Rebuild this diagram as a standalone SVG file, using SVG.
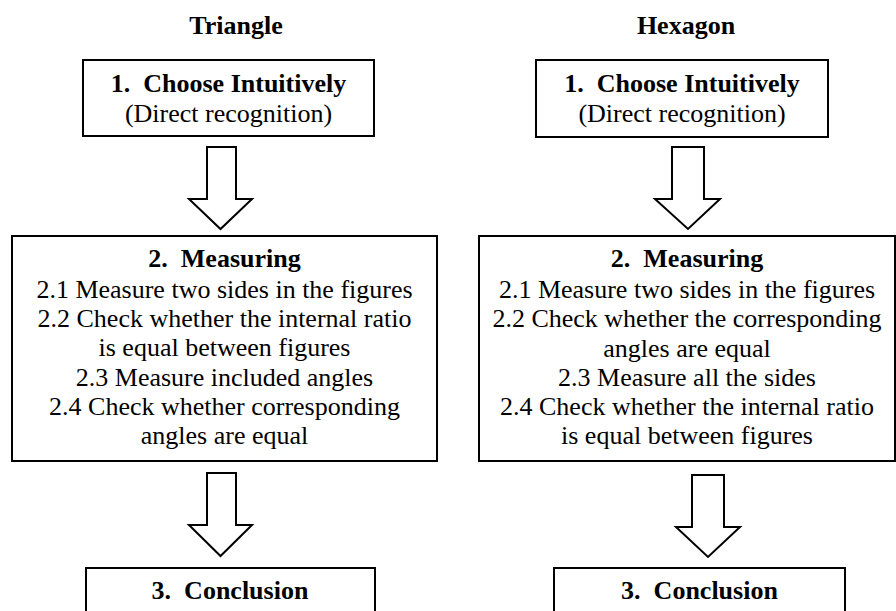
<svg xmlns="http://www.w3.org/2000/svg" width="896" height="611" viewBox="0 0 896 611">
<style>
.box{fill:#fff;stroke:#000;stroke-width:2}
.arr{fill:#fff;stroke:#000;stroke-width:2;stroke-linejoin:miter}
text{font-family:"Liberation Serif","Times New Roman",serif;fill:#000;text-anchor:middle}
.t{font-size:26px;font-weight:bold}
.b{font-size:26px;font-weight:bold}
.r{font-size:26px}
</style>
<rect width="896" height="611" fill="#fff"/>
<g id="titles">
<text class="t" x="236" y="34">Triangle</text>
<text class="t" x="686" y="34">Hexagon</text>
</g>
<g id="connectors">
<polygon class="arr" points="207,147 236,147 236,199 252,199 220.5,229 189,199 207,199"/>
<polygon class="arr" points="207,473 236,473 236,525 252,525 220.5,556 189,525 207,525"/>
<polygon class="arr" points="672,147 704,147 704,199 720,199 688,229 655,199 672,199"/>
<polygon class="arr" points="692,475 724,475 724,527 740,527 708,557 676,527 692,527"/>
</g>
<g id="tri-step1">
<rect class="box" x="83" y="60" width="291" height="76"/>
<text class="b" x="228.5" y="92" xml:space="preserve">1.  Choose Intuitively</text>
<text class="r" x="228.5" y="122">(Direct recognition)</text>
</g>
<g id="tri-step2">
<rect class="box" x="12" y="236" width="425" height="225"/>
<text class="b" x="224.5" y="267" xml:space="preserve">2.  Measuring</text>
<text class="r" x="224.5" y="298">2.1 Measure two sides in the figures</text>
<text class="r" x="224.5" y="327">2.2 Check whether the internal ratio</text>
<text class="r" x="224.5" y="356">is equal between figures</text>
<text class="r" x="224.5" y="386">2.3 Measure included angles</text>
<text class="r" x="224.5" y="415">2.4 Check whether corresponding</text>
<text class="r" x="224.5" y="444">angles are equal</text>
</g>
<g id="tri-step3">
<rect class="box" x="86" y="568" width="289" height="60"/>
<text class="b" x="230" y="599" xml:space="preserve">3.  Conclusion</text>
</g>
<g id="hex-step1">
<rect class="box" x="536" y="60" width="292" height="77"/>
<text class="b" x="682" y="92" xml:space="preserve">1.  Choose Intuitively</text>
<text class="r" x="682" y="122">(Direct recognition)</text>
</g>
<g id="hex-step2">
<rect class="box" x="479" y="236" width="416" height="225"/>
<text class="b" x="687" y="267" xml:space="preserve">2.  Measuring</text>
<text class="r" x="687" y="298">2.1 Measure two sides in the figures</text>
<text class="r" x="687" y="327">2.2 Check whether the corresponding</text>
<text class="r" x="687" y="357">angles are equal</text>
<text class="r" x="687" y="386">2.3 Measure all the sides</text>
<text class="r" x="687" y="415">2.4 Check whether the internal ratio</text>
<text class="r" x="687" y="444">is equal between figures</text>
</g>
<g id="hex-step3">
<rect class="box" x="554" y="568" width="291" height="60"/>
<text class="b" x="699.5" y="599" xml:space="preserve">3.  Conclusion</text>
</g>
</svg>
